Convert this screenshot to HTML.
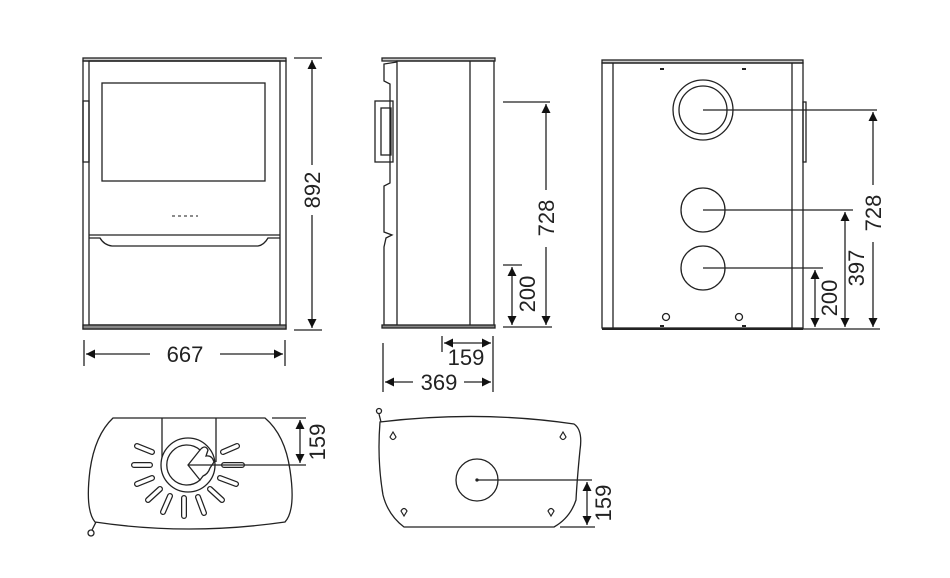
<!DOCTYPE html>
<html><head><style>
html,body{margin:0;padding:0;background:#fff;}
svg{display:block;}
text{font-family:"Liberation Sans",sans-serif;font-size:22px;fill:#222;}
</style></head><body>
<svg width="950" height="578" viewBox="0 0 950 578" xmlns="http://www.w3.org/2000/svg">
<defs>
<marker id="a" viewBox="0 0 10 10" refX="10" refY="5" markerWidth="9" markerHeight="9" markerUnits="userSpaceOnUse" orient="auto-start-reverse"><path d="M0,0 L10,5 L0,10 z" fill="#111"/></marker>
</defs>
<g fill="none" stroke="#222" stroke-width="1.3">
<!-- FRONT VIEW -->
<rect x="83" y="58" width="203" height="3" fill="#ccc"/>
<rect x="83" y="61" width="203" height="268"/>
<rect x="89" y="61" width="191" height="264"/>
<rect x="102" y="83" width="163" height="98"/>
<rect x="83" y="101" width="6" height="61"/>
<line x1="89" y1="235" x2="280" y2="235"/>
<path d="M89,238 L100,238 Q104,245 112,246 L258,246 Q264,245 268,238 L280,238"/>
<rect x="83" y="325" width="203" height="4" fill="#888"/>
<g stroke="#666" stroke-width="1.5"><line x1="172" y1="216" x2="175" y2="216"/><line x1="178" y1="216" x2="181" y2="216"/><line x1="184" y1="216" x2="187" y2="216"/><line x1="190" y1="216" x2="193" y2="216"/><line x1="196" y1="216" x2="198" y2="216"/></g>
<!-- 892 -->
<line x1="294" y1="58" x2="322" y2="58"/><line x1="294" y1="330" x2="322" y2="330"/>
<line x1="312" y1="60" x2="312" y2="165" marker-start="url(#a)"/>
<line x1="312" y1="215" x2="312" y2="328" marker-end="url(#a)"/>
<!-- 667 -->
<line x1="84" y1="340" x2="84" y2="366"/><line x1="285" y1="340" x2="285" y2="366"/>
<line x1="86" y1="354" x2="150" y2="354" marker-start="url(#a)"/>
<line x1="220" y1="354" x2="283" y2="354" marker-end="url(#a)"/>

<!-- SIDE VIEW -->
<rect x="382" y="58" width="113" height="3" fill="#ccc"/>
<rect x="397" y="61" width="97" height="266"/>
<line x1="470" y1="61" x2="470" y2="327"/>
<path d="M397,62 L384,64 L384,81 L390,84 L390,183 L384,186 L384,232 L392,235 L386,238 L384,247 L384,325 L397,325"/>
<rect x="375" y="101" width="18" height="61"/>
<rect x="381" y="108" width="10" height="47"/>
<rect x="382" y="325" width="113" height="3" fill="#888"/>
<!-- 728 -->
<line x1="503" y1="102" x2="550" y2="102"/><line x1="503" y1="327" x2="552" y2="327"/>
<line x1="546" y1="104" x2="546" y2="190" marker-start="url(#a)"/>
<line x1="546" y1="247" x2="546" y2="325" marker-end="url(#a)"/>
<!-- 200 -->
<line x1="503" y1="265" x2="522" y2="265"/>
<line x1="512" y1="267" x2="512" y2="325" marker-start="url(#a)" marker-end="url(#a)"/>
<!-- 159 -->
<line x1="442" y1="336" x2="442" y2="352"/><line x1="493" y1="336" x2="493" y2="392"/>
<line x1="444" y1="343" x2="491" y2="343" marker-start="url(#a)" marker-end="url(#a)"/>
<!-- 369 -->
<line x1="383" y1="343" x2="383" y2="392"/>
<line x1="385" y1="382" x2="413" y2="382" marker-start="url(#a)"/>
<line x1="464" y1="382" x2="491" y2="382" marker-end="url(#a)"/>

<!-- BACK VIEW -->
<rect x="602" y="60" width="201" height="3" fill="#ccc"/>
<rect x="602" y="63" width="201" height="265"/>
<line x1="613" y1="63" x2="613" y2="328"/><line x1="792" y1="63" x2="792" y2="328"/>
<rect x="803" y="102" width="3" height="60"/>
<line x1="602" y1="329" x2="803" y2="329" stroke-width="2"/>
<circle cx="703" cy="110" r="30"/><circle cx="703" cy="110" r="24"/>
<circle cx="703" cy="210" r="22"/><circle cx="703" cy="268" r="22"/>
<circle cx="666" cy="317" r="3.5"/><circle cx="739" cy="317" r="3.5"/>
<g stroke-width="2"><line x1="660" y1="69" x2="664" y2="69"/><line x1="742" y1="69" x2="746" y2="69"/><line x1="660" y1="326" x2="664" y2="326"/><line x1="742" y1="326" x2="746" y2="326"/></g>
<line x1="703" y1="110" x2="877" y2="110"/>
<line x1="703" y1="210" x2="853" y2="210"/>
<line x1="703" y1="268" x2="823" y2="268"/>
<line x1="803" y1="329" x2="880" y2="329"/>
<line x1="873" y1="112" x2="873" y2="185" marker-start="url(#a)"/>
<line x1="873" y1="242" x2="873" y2="327" marker-end="url(#a)"/>
<line x1="845" y1="212" x2="845" y2="327" marker-start="url(#a)" marker-end="url(#a)"/>
<line x1="815" y1="270" x2="815" y2="327" marker-start="url(#a)" marker-end="url(#a)"/>

<!-- TOP VIEW LEFT -->
<path d="M113,418 L265,418 Q285,435 290,470 Q296,510 285,522 Q188,536 95,522 Q85,510 90,470 Q95,435 113,418 Z"/>
<line x1="162" y1="418" x2="162" y2="462"/><line x1="216" y1="418" x2="216" y2="462"/>
<circle cx="188" cy="465" r="27" fill="#fff"/>
<path d="M188,465 L200,450 A20,20 0 1,0 200,480 Z"/>
<path d="M200,450 Q205,444 208,450 L206,456 Q212,455 214,462 L210,468 Q208,474 203,476 L200,480"/>
<g stroke-linecap="round">
<g stroke-width="6"><path d="M152,452 L137,446 M150,465 L134,465 M152,478 L137,484 M160,489 L148,500 M170,496 L163,512 M184,498 L184,516 M198,497 L204,513 M210,489 L222,500 M220,478 L236,484 M224,465 L242,465 M223,452 L237,446"/></g>
<g stroke-width="3.5" stroke="#fff"><path d="M152,452 L137,446 M150,465 L134,465 M152,478 L137,484 M160,489 L148,500 M170,496 L163,512 M184,498 L184,516 M198,497 L204,513 M210,489 L222,500 M220,478 L236,484 M224,465 L242,465 M223,452 L237,446"/></g>
</g>
<line x1="188" y1="465" x2="306" y2="465"/>
<line x1="272" y1="418" x2="306" y2="418"/>
<line x1="300" y1="420" x2="300" y2="463" marker-start="url(#a)" marker-end="url(#a)"/>
<path d="M96,522 L92,530"/><circle cx="91" cy="533" r="3"/>

<!-- TOP VIEW RIGHT -->
<path d="M380,422 Q480,410 574,424 Q583,430 580,450 Q577,480 576,500 Q570,518 554,527 L404,527 Q388,515 383,495 Q377,460 380,422 Z"/>
<circle cx="477" cy="480" r="21"/>
<circle cx="477" cy="480" r="1" fill="#222"/>
<line x1="477" y1="480" x2="592" y2="480"/>
<line x1="560" y1="527" x2="595" y2="527"/>
<line x1="587" y1="482" x2="587" y2="525" marker-start="url(#a)" marker-end="url(#a)"/>
<path d="M381,422 L379,414"/><circle cx="379" cy="411" r="2.5"/>
<g stroke-width="1.2">
<path d="M390,437 L393,432 L396,437 Q393,442 390,437Z"/>
<path d="M560,437 L563,432 L566,437 Q563,442 560,437Z"/>
<path d="M401,511 L404,516 L407,511 Q404,506 401,511Z"/>
<path d="M548,511 L551,516 L554,511 Q551,506 548,511Z"/>
</g>
</g>
<text x="185" y="362" text-anchor="middle">667</text>
<text transform="translate(320,190) rotate(-90)" text-anchor="middle">892</text>
<text x="466" y="365" text-anchor="middle">159</text>
<text x="439" y="390" text-anchor="middle">369</text>
<text transform="translate(554,218) rotate(-90)" text-anchor="middle">728</text>
<text transform="translate(535,294) rotate(-90)" text-anchor="middle">200</text>
<text transform="translate(881,213) rotate(-90)" text-anchor="middle">728</text>
<text transform="translate(864,268) rotate(-90)" text-anchor="middle">397</text>
<text transform="translate(837,298) rotate(-90)" text-anchor="middle">200</text>
<text transform="translate(325,442) rotate(-90)" text-anchor="middle">159</text>
<text transform="translate(611,503) rotate(-90)" text-anchor="middle">159</text>
</svg>
</body></html>
